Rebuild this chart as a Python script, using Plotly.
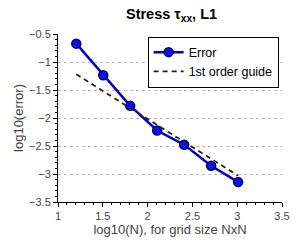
import plotly.graph_objects as go

log_n = [1.204, 1.505, 1.806, 2.107, 2.408, 2.709, 3.010]
log_err = [-0.672, -1.236, -1.783, -2.224, -2.478, -2.852, -3.145]
guide_x = [1.204, 3.010]
guide_y = [-1.22, -3.03]

x_ticks = [1, 1.5, 2, 2.5, 3, 3.5]
y_ticks = [-3.5, -3, -2.5, -2, -1.5, -1, -0.5]

fig = go.Figure()
fig.add_trace(go.Scatter(
    x=log_n, y=log_err, mode="lines+markers", name="Error",
    line=dict(color="#0000c8", width=2.5),
    marker=dict(symbol="circle", size=9, color="#1010e0",
                line=dict(color="#000070", width=1.5)),
))
fig.add_trace(go.Scatter(
    x=guide_x, y=guide_y, mode="lines", name="1st order guide",
    line=dict(color="#222222", width=1.8, dash="5px,4px"),
))

# page body has an 8px default margin, so the figure is sized to fit the window
font = "Liberation Sans, Arial, sans-serif"
fig.update_layout(
    width=292, height=235,
    margin=dict(l=40, r=10, t=26, b=35),
    paper_bgcolor="white", plot_bgcolor="white",
    font=dict(family=font, size=11, color="#444"),
    title=dict(text="<b>Stress τ<sub>xx</sub>, L1</b>", x=0.56, xanchor="center",
               y=0.995, yanchor="top", font=dict(size=14.5, color="black")),
    showlegend=True,
    legend=dict(x=0.985, y=0.985, xanchor="right", yanchor="top",
                bgcolor="white", bordercolor="black", borderwidth=1,
                font=dict(size=12.5, color="black"), tracegroupgap=0,
                itemwidth=30),
    xaxis=dict(
        range=[1, 3.5], tickmode="array", tickvals=x_ticks,
        ticktext=[str(v) for v in x_ticks],
        showgrid=False, zeroline=False,
        showline=True, linecolor="black", linewidth=1,
        ticks="outside", ticklen=4, tickcolor="black",
        ticklabeloverflow="allow",
        minor=dict(dtick=0.1, ticks="outside", ticklen=2, tickcolor="black", showgrid=False),
        title=dict(text="log10(N), for grid size NxN", font=dict(size=13, color="#444"), standoff=2),
    ),
    yaxis=dict(
        range=[-3.5, -0.5], tickmode="array", tickvals=y_ticks,
        ticktext=[str(v).replace("-", "−") for v in y_ticks],
        showgrid=True, gridcolor="#bbbbbb", griddash="dot", gridwidth=1,
        zeroline=False,
        showline=True, linecolor="black", linewidth=1,
        ticks="outside", ticklen=4, tickcolor="black",
        minor=dict(dtick=0.1, ticks="outside", ticklen=2, tickcolor="black", showgrid=False),
        title=dict(text="log10(error)", font=dict(size=13, color="#444"), standoff=2),
    ),
)

fig.write_html("out.html")
